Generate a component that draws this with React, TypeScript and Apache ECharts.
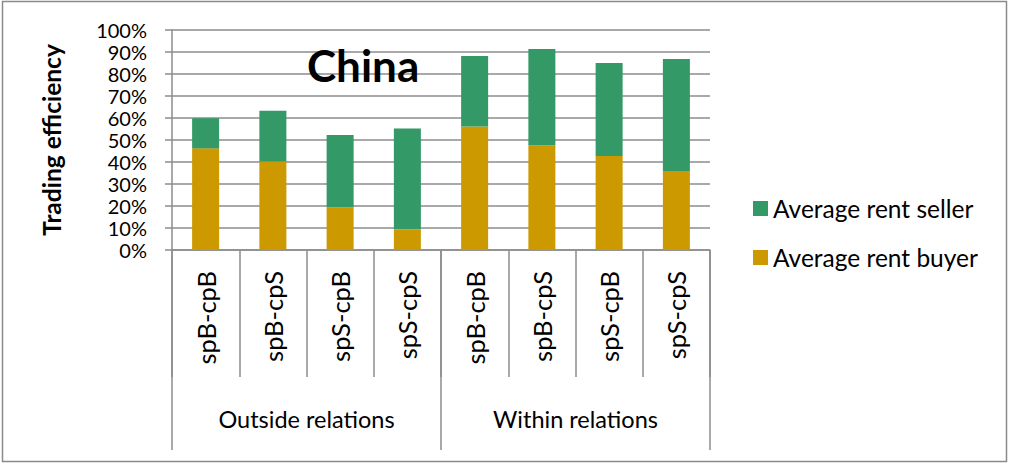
import React, { useEffect, useRef } from "react";
import * as echarts from "echarts";

const categories = ["spB-cpB", "spB-cpS", "spS-cpB", "spS-cpS", "spB-cpB", "spB-cpS", "spS-cpB", "spS-cpS"];
const groups = ["Outside relations", "Within relations"];
const buyer = [46.2, 40.2, 19.4, 9.4, 56.1, 47.6, 42.7, 35.9];
const seller = [13.7, 23.1, 32.9, 45.8, 32.1, 43.8, 42.3, 50.9];
const yTicks = { min: 0, max: 100, interval: 10 };

const FONT = "Lato";
const GRAY = "#8c8c8c";

export default function App() {
  const ref = useRef<HTMLDivElement>(null);
  useEffect(() => {
    if (!ref.current) return;
    const chart = echarts.init(ref.current, undefined, { renderer: "svg" });
    chart.setOption({
      animation: false,
      backgroundColor: "#ffffff",
      title: {
        text: "China",
        left: 302,
        top: 38,
        textStyle: { fontFamily: FONT, fontSize: 44, fontWeight: "bold", color: "#000" },
      },
      legend: {
        orient: "vertical",
        left: 748,
        top: 191,
        itemGap: 24,
        itemWidth: 15,
        itemHeight: 15,
        icon: "rect",
        data: ["Average rent seller", "Average rent buyer"],
        textStyle: { fontFamily: FONT, fontSize: 24.5, lineHeight: 24, color: "#000" },
      },
      grid: { left: 172, top: 30, width: 538, height: 220, containLabel: false },
      xAxis: [
        {
          type: "category",
          data: categories,
          axisLine: { show: true, lineStyle: { color: GRAY, width: 1.5 } },
          axisTick: { show: true, interval: 0, length: 127, lineStyle: { color: GRAY, width: 1.5 } },
          axisLabel: {
            interval: 0,
            rotate: 90,
            margin: 21,
            fontFamily: FONT,
            fontSize: 25.5,
            color: "#000",
          },
        },
        {
          type: "category",
          data: groups,
          position: "bottom",
          axisLine: { show: false },
          axisTick: { show: true, interval: 0, length: 200, lineStyle: { color: GRAY, width: 1.5 } },
          axisLabel: {
            interval: 0,
            margin: 157,
            fontFamily: FONT,
            fontSize: 23.5,
            color: "#000",
          },
        },
      ],
      yAxis: {
        type: "value",
        min: yTicks.min,
        max: yTicks.max,
        interval: yTicks.interval,
        name: "Trading efficiency",
        nameLocation: "middle",
        nameGap: 108,
        nameRotate: 90,
        nameTextStyle: { fontFamily: FONT, fontSize: 24.5, fontWeight: "bold", color: "#000" },
        axisLine: { show: true, lineStyle: { color: GRAY, width: 1.5 } },
        axisTick: { show: true, length: 7, lineStyle: { color: GRAY, width: 1.5 } },
        splitLine: { show: true, lineStyle: { color: GRAY, width: 1.5 } },
        axisLabel: {
          formatter: "{value}%",
          margin: 25,
          showMinLabel: true,
          showMaxLabel: true,
          hideOverlap: false,
          fontFamily: FONT,
          fontSize: 20,
          lineHeight: 18,
          color: "#000",
        },
      },
      series: [
        {
          name: "Average rent buyer",
          type: "bar",
          stack: "total",
          data: buyer,
          barWidth: 27,
          itemStyle: { color: "#cc9900" },
        },
        {
          name: "Average rent seller",
          type: "bar",
          stack: "total",
          data: seller,
          barWidth: 27,
          itemStyle: { color: "#339966" },
        },
      ],
      graphic: [
        {
          type: "rect",
          shape: { x: 2.5, y: 1.5, width: 1004, height: 460 },
          style: { fill: "none", stroke: "#8a8a8a", lineWidth: 1.5 },
          silent: true,
        },
      ],
    });
    return () => chart.dispose();
  }, []);
  return (
    <div
      ref={ref}
      style={{ position: "fixed", left: 0, top: 0, width: 1010, height: 465 }}
    />
  );
}
